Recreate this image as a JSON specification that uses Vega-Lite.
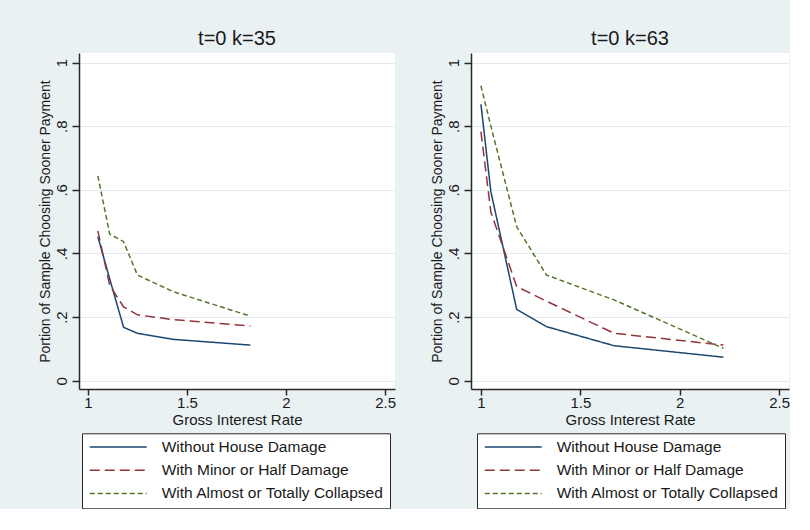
{
  "$schema": "https://vega.github.io/schema/vega-lite/v6.json",
  "background": "#E9F1F3",
  "padding": {"left": 38, "top": 29, "right": 0, "bottom": 0},
  "spacing": 34,
  "config": {
    "font": "Liberation Sans, Arial, sans-serif",
    "view": {"fill": "white", "stroke": null},
    "axis": {
      "domainColor": "#2a2a2a", "domainWidth": 1.5,
      "tickColor": "#2a2a2a", "tickWidth": 1.5, "tickSize": 7,
      "labelColor": "#1a1a1a", "titleColor": "#1a1a1a",
      "labelFontSize": 15, "titleFontSize": 15, "titleFontWeight": "normal"
    },
    "title": {"fontSize": 20, "fontWeight": "normal", "color": "#1a1a1a"},
    "legend": {
      "strokeColor": "#2a2a2a", "fillColor": "white", "padding": 6,
      "symbolType": "M-5.7,0H5.7", "symbolSize": 100, "symbolStrokeWidth": 1.5,
      "symbolOffset": 22.5, "labelOffset": 35.7, "rowPadding": 6.2,
      "labelFontSize": 15.5, "labelColor": "#1a1a1a", "labelLimit": 400
    }
  },
  "datasets": {
    "k35": [
      {"group": "Without House Damage", "rate": 1.05, "share": 0.453},
      {"group": "Without House Damage", "rate": 1.11, "share": 0.32},
      {"group": "Without House Damage", "rate": 1.18, "share": 0.168},
      {"group": "Without House Damage", "rate": 1.25, "share": 0.149},
      {"group": "Without House Damage", "rate": 1.43, "share": 0.13},
      {"group": "Without House Damage", "rate": 1.82, "share": 0.112},
      {"group": "With Minor or Half Damage", "rate": 1.05, "share": 0.471},
      {"group": "With Minor or Half Damage", "rate": 1.11, "share": 0.3},
      {"group": "With Minor or Half Damage", "rate": 1.18, "share": 0.232},
      {"group": "With Minor or Half Damage", "rate": 1.25, "share": 0.207},
      {"group": "With Minor or Half Damage", "rate": 1.43, "share": 0.192},
      {"group": "With Minor or Half Damage", "rate": 1.82, "share": 0.172},
      {"group": "With Almost or Totally Collapsed", "rate": 1.05, "share": 0.644},
      {"group": "With Almost or Totally Collapsed", "rate": 1.11, "share": 0.461},
      {"group": "With Almost or Totally Collapsed", "rate": 1.18, "share": 0.437},
      {"group": "With Almost or Totally Collapsed", "rate": 1.25, "share": 0.332},
      {"group": "With Almost or Totally Collapsed", "rate": 1.43, "share": 0.28},
      {"group": "With Almost or Totally Collapsed", "rate": 1.82, "share": 0.203}
    ],
    "k63": [
      {"group": "Without House Damage", "rate": 1.0, "share": 0.869},
      {"group": "Without House Damage", "rate": 1.05, "share": 0.594},
      {"group": "Without House Damage", "rate": 1.18, "share": 0.224},
      {"group": "Without House Damage", "rate": 1.33, "share": 0.17},
      {"group": "Without House Damage", "rate": 1.67, "share": 0.11},
      {"group": "Without House Damage", "rate": 2.22, "share": 0.074},
      {"group": "With Minor or Half Damage", "rate": 1.0, "share": 0.783},
      {"group": "With Minor or Half Damage", "rate": 1.05, "share": 0.53},
      {"group": "With Minor or Half Damage", "rate": 1.18, "share": 0.296},
      {"group": "With Minor or Half Damage", "rate": 1.33, "share": 0.25},
      {"group": "With Minor or Half Damage", "rate": 1.67, "share": 0.149},
      {"group": "With Minor or Half Damage", "rate": 2.22, "share": 0.112},
      {"group": "With Almost or Totally Collapsed", "rate": 1.0, "share": 0.927},
      {"group": "With Almost or Totally Collapsed", "rate": 1.05, "share": 0.8},
      {"group": "With Almost or Totally Collapsed", "rate": 1.18, "share": 0.484},
      {"group": "With Almost or Totally Collapsed", "rate": 1.33, "share": 0.332},
      {"group": "With Almost or Totally Collapsed", "rate": 1.67, "share": 0.254},
      {"group": "With Almost or Totally Collapsed", "rate": 2.22, "share": 0.102}
    ]
  },
  "hconcat": [
    {
      "title": {"text": "t=0 k=35", "anchor": "middle", "offset": 4},
      "width": 316, "height": 336,
      "data": {"name": "k35"},
      "mark": {"type": "line", "strokeWidth": 1.5},
      "encoding": {
        "x": {"field": "rate", "type": "quantitative",
          "scale": {"domain": [0.955, 2.55], "nice": false, "zero": false},
          "axis": {"values": [1, 1.5, 2, 2.5], "format": "~g", "grid": false, "title": "Gross Interest Rate", "tickSize": 6, "labelPadding": 0, "titlePadding": 2}},
        "y": {"field": "share", "type": "quantitative",
          "scale": {"domain": [-0.026, 1.03], "nice": false, "zero": false},
          "axis": {"values": [0, 0.2, 0.4, 0.6, 0.8, 1], "labelExpr": "datum.value == 0 ? '0' : datum.value == 1 ? '1' : replace(format(datum.value, '.1f'), '0.', '.')",
            "labelAngle": -90, "labelAlign": "center", "labelBaseline": "bottom", "labelPadding": 3,
            "grid": true, "gridColor": "#E1EBF0", "gridWidth": 1.2,
            "title": "Portion of Sample Choosing Sooner Payment", "titleFontSize": 14, "titlePadding": 2}},
        "color": {"field": "group", "type": "nominal",
          "scale": {"domain": ["Without House Damage", "With Minor or Half Damage", "With Almost or Totally Collapsed"], "range": ["#1A476F", "#90353B", "#55752F"]},
          "legend": {"title": null, "orient": "none", "legendX": 3, "legendY": 380.3}},
        "strokeDash": {"field": "group", "type": "nominal",
          "scale": {"domain": ["Without House Damage", "With Minor or Half Damage", "With Almost or Totally Collapsed"], "range": [[1, 0], [10, 5], [5, 3]]},
          "legend": {"title": null, "orient": "none", "legendX": 3, "legendY": 380.3}}
      }
    },
    {
      "title": {"text": "t=0 k=63", "anchor": "middle", "offset": 4},
      "width": 318, "height": 336,
      "data": {"name": "k63"},
      "mark": {"type": "line", "strokeWidth": 1.5},
      "encoding": {
        "x": {"field": "rate", "type": "quantitative",
          "scale": {"domain": [0.95, 2.55], "nice": false, "zero": false},
          "axis": {"values": [1, 1.5, 2, 2.5], "format": "~g", "grid": false, "title": "Gross Interest Rate", "tickSize": 6, "labelPadding": 0, "titlePadding": 2}},
        "y": {"field": "share", "type": "quantitative",
          "scale": {"domain": [-0.026, 1.03], "nice": false, "zero": false},
          "axis": {"values": [0, 0.2, 0.4, 0.6, 0.8, 1], "labelExpr": "datum.value == 0 ? '0' : datum.value == 1 ? '1' : replace(format(datum.value, '.1f'), '0.', '.')",
            "labelAngle": -90, "labelAlign": "center", "labelBaseline": "bottom", "labelPadding": 3,
            "grid": true, "gridColor": "#E1EBF0", "gridWidth": 1.2,
            "title": "Portion of Sample Choosing Sooner Payment", "titleFontSize": 14, "titlePadding": 2}},
        "color": {"field": "group", "type": "nominal",
          "scale": {"domain": ["Without House Damage", "With Minor or Half Damage", "With Almost or Totally Collapsed"], "range": ["#1A476F", "#90353B", "#55752F"]},
          "legend": {"title": null, "orient": "none", "legendX": 6, "legendY": 380.3}},
        "strokeDash": {"field": "group", "type": "nominal",
          "scale": {"domain": ["Without House Damage", "With Minor or Half Damage", "With Almost or Totally Collapsed"], "range": [[1, 0], [10, 5], [5, 3]]},
          "legend": {"title": null, "orient": "none", "legendX": 6, "legendY": 380.3}}
      }
    }
  ],
  "resolve": {
    "scale": {"color": "independent", "strokeDash": "independent", "x": "independent", "y": "independent"},
    "legend": {"color": "independent", "strokeDash": "independent"}
  }
}
